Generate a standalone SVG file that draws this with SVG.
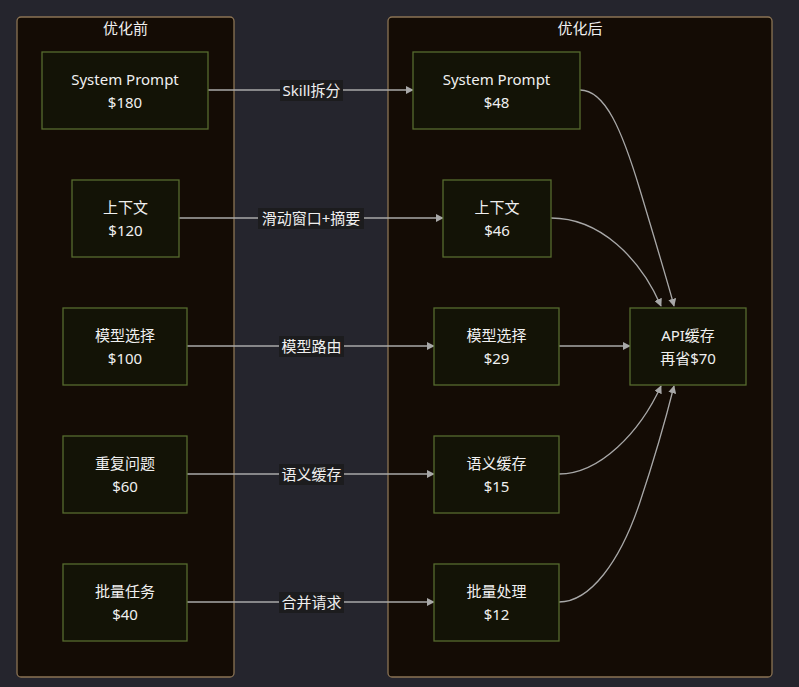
<svg xmlns="http://www.w3.org/2000/svg" width="799" height="687" viewBox="0 0 799 687">
<defs>
<style>
text{font-family:"Noto Sans","Noto Sans CJK SC",sans-serif;fill:#f0f0f0;font-size:15px;text-anchor:middle;dominant-baseline:central}
.cluster{fill:#140c05;stroke:#8a7354;stroke-width:1.3}
.node rect{fill:#131306;stroke:#566b2e;stroke-width:1.3}
.edge{fill:none;stroke:#a8a8a8;stroke-width:1.3;marker-end:url(#arr)}
.lbl{fill:#1c1c1e}
.title{font-size:15px}
</style>
<marker id="arr" viewBox="0 0 10 10" refX="9" refY="5" markerWidth="8" markerHeight="8" orient="auto" markerUnits="userSpaceOnUse">
<path d="M0,0 L10,5 L0,10 z" fill="#a8a8a8"/>
</marker>
</defs>
<rect width="799" height="687" fill="#25252d"/>
<g id="before">
<rect class="cluster" x="17" y="17" width="217" height="660" rx="4"/>
<text class="title" x="125.5" y="28">优化前</text>
</g>
<g id="after">
<rect class="cluster" x="388" y="17" width="384" height="660" rx="4"/>
<text class="title" x="580" y="28">优化后</text>
</g>
<g id="connectors">
<path class="edge" d="M208,90 L413,90"/>
<path class="edge" d="M179,218 L443,218"/>
<path class="edge" d="M187,346 L434,346"/>
<path class="edge" d="M187,474 L434,474"/>
<path class="edge" d="M187,602 L434,602"/>
<path class="edge" d="M580,90 C605,90 622,130 640,190 S670,290 674,306"/>
<path class="edge" d="M551,218 C600,218 640,258 661,306"/>
<path class="edge" d="M559,346 L630,346"/>
<path class="edge" d="M559,474 C600,474 640,432 661,386"/>
<path class="edge" d="M559,602 C590,602 620,562 640,502 S670,402 674,386"/>
<rect class="lbl" x="280" y="80" width="63" height="21"/>
<text x="311.5" y="90">Skill拆分</text>
<rect class="lbl" x="258" y="208" width="106" height="21"/>
<text x="311" y="218">滑动窗口+摘要</text>
<rect class="lbl" x="279" y="336" width="65" height="21"/>
<text x="311.5" y="346">模型路由</text>
<rect class="lbl" x="279" y="464" width="65" height="21"/>
<text x="311.5" y="474">语义缓存</text>
<rect class="lbl" x="279" y="592" width="65" height="21"/>
<text x="311.5" y="602">合并请求</text>
</g>
<g id="sp1" class="node"><rect x="42" y="52" width="166" height="77"/><text x="125" y="79">System Prompt</text><text x="125" y="102">$180</text></g>
<g id="ctx1" class="node"><rect x="72" y="180" width="107" height="77"/><text x="125.5" y="207">上下文</text><text x="125.5" y="230">$120</text></g>
<g id="model1" class="node"><rect x="63" y="308" width="124" height="77"/><text x="125" y="335">模型选择</text><text x="125" y="358">$100</text></g>
<g id="repeat1" class="node"><rect x="63" y="436" width="124" height="77"/><text x="125" y="463">重复问题</text><text x="125" y="486">$60</text></g>
<g id="batch1" class="node"><rect x="63" y="564" width="124" height="77"/><text x="125" y="591">批量任务</text><text x="125" y="614">$40</text></g>
<g id="sp2" class="node"><rect x="413" y="52" width="167" height="77"/><text x="496.5" y="79">System Prompt</text><text x="496.5" y="102">$48</text></g>
<g id="ctx2" class="node"><rect x="443" y="180" width="108" height="77"/><text x="497" y="207">上下文</text><text x="497" y="230">$46</text></g>
<g id="model2" class="node"><rect x="434" y="308" width="125" height="77"/><text x="496.5" y="335">模型选择</text><text x="496.5" y="358">$29</text></g>
<g id="sem2" class="node"><rect x="434" y="436" width="125" height="77"/><text x="496.5" y="463">语义缓存</text><text x="496.5" y="486">$15</text></g>
<g id="batch2" class="node"><rect x="434" y="564" width="125" height="77"/><text x="496.5" y="591">批量处理</text><text x="496.5" y="614">$12</text></g>
<g id="api" class="node"><rect x="630" y="308" width="116" height="77"/><text x="688" y="335">API缓存</text><text x="688" y="358">再省$70</text></g>
</svg>
